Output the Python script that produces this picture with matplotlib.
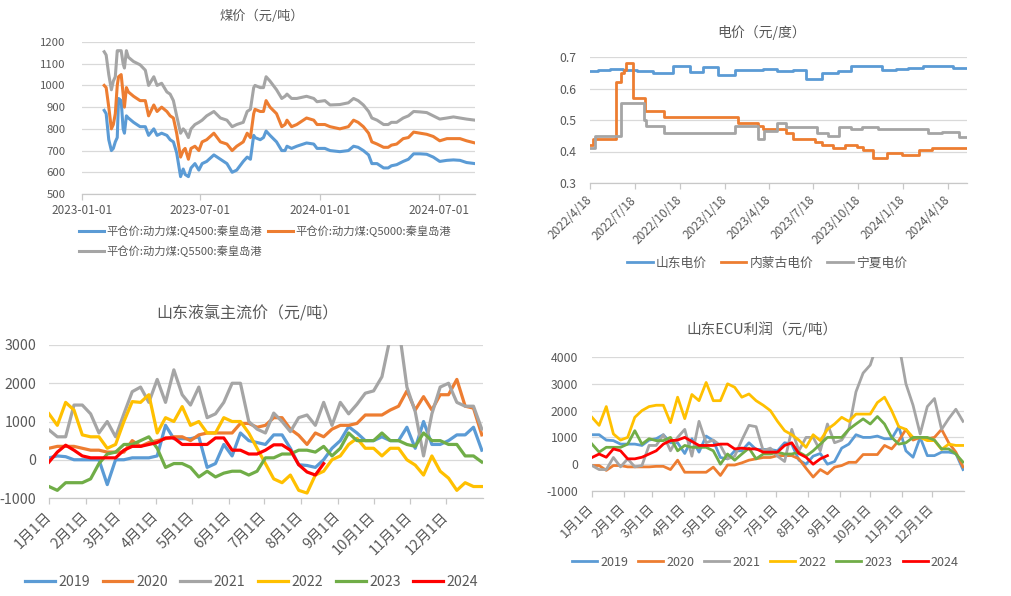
import numpy as np
import matplotlib
matplotlib.use('Agg')
import matplotlib.pyplot as plt

plt.rcParams['font.family'] = ['Noto Sans CJK SC', 'DejaVu Sans']
plt.rcParams['axes.unicode_minus'] = False

# ---------------- data ----------------
# coal: day offsets from 2023-01-01
coal_days = [34, 37, 41, 45, 48, 51, 54, 56, 60, 63, 65, 68, 71, 79, 89, 97, 102, 110, 115, 122,
             130, 135, 140, 145, 151, 155, 158, 163, 167, 173, 179, 184, 191, 202, 212, 222, 230, 237, 247, 253,
             258, 263, 265, 273, 278, 282, 288, 298, 306, 311, 314, 321, 329, 344, 355, 360, 372, 380, 395, 408,
             416, 423, 431, 439, 444, 452, 462, 469, 474, 482, 492, 500, 508, 518, 528, 538, 548, 559, 569, 579,
             589, 602]
q4500 = [885, 870, 750, 700, 710, 740, 760, 940, 930, 800, 780, 860, 850, 830, 810, 810, 770, 800, 770, 780,
         770, 750, 740, 690, 580, 615, 590, 580, 620, 640, 610, 640, 650, 680, 660, 640, 600, 610, 650, 670,
         660, 770, 760, 750, 760, 790, 770, 740, 700, 700, 720, 710, 720, 735, 730, 710, 710, 700, 695, 700,
         720, 715, 700, 680, 640, 640, 620, 620, 630, 635, 650, 660, 685, 685, 683, 670, 650, 655, 657, 655,
         645, 640]
q5000 = [1000, 990, 900, 800, 820, 870, 1000, 1040, 1050, 960, 900, 990, 970, 950, 930, 930, 860, 910, 880, 900,
         880, 860, 850, 780, 670, 700, 710, 660, 710, 720, 700, 740, 750, 780, 740, 730, 700, 720, 740, 780,
         760, 870, 890, 880, 880, 930, 900, 870, 810, 820, 840, 810, 820, 850, 840, 820, 820, 810, 800, 810,
         840, 830, 810, 780, 740, 730, 715, 715, 725, 730, 755, 760, 785, 780, 775, 765, 745, 755, 755, 755,
         745, 735]
q5500 = [1155, 1140, 1050, 980, 1020, 1040, 1160, 1160, 1160, 1100, 1080, 1160, 1130, 1110, 1095, 1070, 1000, 1040, 1000, 1010,
         970, 960, 930, 860, 780, 800, 790, 760, 800, 820, 830, 840, 860, 880, 850, 840, 810, 820, 830, 880,
         890, 990, 1000, 990, 990, 1040, 1020, 980, 940, 950, 960, 940, 940, 950, 940, 925, 930, 910, 912, 920,
         940, 930, 910, 880, 850, 840, 820, 820, 830, 830, 850, 860, 880, 878, 875, 860, 845, 850, 855, 850,
         845, 840]
coal_ticks = ['2023-01-01', '2023-07-01', '2024-01-01', '2024-07-01']

# power price: step change points, day offsets from 2022-04-18
sd_days = [0, 16, 40, 67, 95, 129, 170, 204, 231, 262, 296, 354, 381, 415, 442, 473, 507, 534, 596, 626, 650, 681, 742, 770]
sd_price = [0.655, 0.66, 0.663, 0.66, 0.655, 0.65, 0.67, 0.652, 0.668, 0.643, 0.66, 0.663, 0.655, 0.658, 0.63, 0.648,
            0.657, 0.67, 0.66, 0.663, 0.666, 0.672, 0.665, 0.665]
nm_days = [0, 6, 54, 63, 70, 74, 87, 112, 151, 303, 344, 354, 401, 414, 459, 473, 496, 521, 545, 558, 579, 606, 637, 671, 698, 770]
nm_price = [0.42, 0.44, 0.62, 0.65, 0.66, 0.68, 0.57, 0.53, 0.51, 0.49, 0.48, 0.47, 0.46, 0.44, 0.43, 0.42, 0.41,
            0.42, 0.415, 0.405, 0.38, 0.395, 0.39, 0.405, 0.41, 0.41]
nx_days = [0, 10, 64, 110, 115, 151, 296, 344, 355, 382, 401, 463, 487, 509, 534, 555, 589, 691, 718, 753, 770]
nx_price = [0.41, 0.45, 0.555, 0.50, 0.48, 0.46, 0.48, 0.44, 0.465, 0.49, 0.478, 0.46, 0.45, 0.478, 0.47, 0.478,
            0.47, 0.46, 0.463, 0.445, 0.445]
power_ticks = ['2022-04-18', '2022-07-18', '2022-10-18', '2023-01-18', '2023-04-18',
               '2023-07-18', '2023-10-18', '2024-01-18', '2024-04-18']
power_labels = ['2022/4/18', '2022/7/18', '2022/10/18', '2023/1/18', '2023/4/18',
                '2023/7/18', '2023/10/18', '2024/1/18', '2024/4/18']

# weekly values, week 0 = Jan 1
years = ['2019', '2020', '2021', '2022', '2023', '2024']
chlor = {
    '2019': [50, 100, 80, 0, 0, 0, 0, -650, 0, 0, 50, 50, 50, 100, 900, 550, 550, 550, 600, -200,
             -100, 400, 100, 700, 500, 450, 400, 650, 650, 300, -130, -150, -200, 0, 300, 500, 865, 700, 500, 500,
             600, 500, 500, 850, 300, 1000, 400, 400, 500, 650, 650, 850, 250],
    '2020': [300, 350, 350, 350, 300, 250, 250, 200, 200, 200, 500, 350, 450, 500, 550, 600, 600, 500, 650, 700,
             700, 700, 700, 950, 950, 850, 900, 1100, 1100, 800, 640, 400, 700, 600, 800, 900, 900, 950, 1170, 1170,
             1170, 1300, 1400, 1800, 1300, 1650, 1300, 1700, 1700, 2100, 1400, 1350, 650],
    '2021': [780, 600, 600, 1430, 1430, 1200, 700, 1000, 600, 1200, 1780, 1900, 1500, 2100, 1500, 2350, 1700, 1430, 1900, 1100,
             1200, 1500, 2000, 2000, 1000, 800, 700, 1220, 1000, 735, 1100, 1170, 900, 1500, 900, 1500, 1200, 1450, 1740, 1800,
             2170, 3200, 3500, 1900, 1256, 100, 1200, 1900, 2000, 1500, 1400, 1400, 800],
    '2022': [1200, 900, 1500, 1300, 650, 600, 600, 300, 400, 1000, 1520, 1500, 1700, 700, 1100, 1000, 1390, 900, 1000, 700,
             700, 1100, 1000, 1000, 700, 300, -100, -500, -600, -400, -800, -870, -400, -300, 0, 100, 400, 560, 300, 300,
             100, 300, 300, 0, -140, -400, 100, -300, -480, -800, -600, -700, -700],
    '2023': [-700, -800, -600, -600, -600, -500, -100, 150, 200, 400, 400, 500, 600, 300, -200, -100, -100, -200, -450, -300,
             -450, -350, -300, -300, -400, -300, 50, 50, 150, 150, 250, 250, 200, 350, 100, 300, 700, 500, 500, 500,
             700, 500, 500, 400, 350, 700, 500, 500, 400, 400, 100, 100, -60],
    '2024': [-60, 200, 380, 250, 100, 50, 50, 50, 50, 250, 350, 350, 400, 450, 570, 570, 400, 400, 400, 400,
             570, 570, 250, 250, 150, 150, 250, 390, 390, 250, -130, -320, -400, -100],
}
ecu = {
    '2019': [1100, 1100, 900, 880, 750, 750, 750, 700, 900, 950, 1100, 800, 800, 400, 950, 450, 1050, 880, 250, 200,
             500, 500, 800, 550, 550, 550, 500, 800, 750, 150, 0, 300, 400, 0, 100, 600, 750, 1100, 1000, 1000,
             1050, 950, 950, 1400, 500, 260, 1000, 320, 320, 450, 450, 400, -200],
    '2020': [-50, -50, -230, -50, -50, -100, -100, -100, -100, -80, -80, -200, 150, -300, -300, -300, -300, -110, -420, -30,
             -30, 50, 150, 200, 250, 250, 320, 320, 320, 200, -150, -480, -200, -360, -110, -50, 70, 70, 360, 360,
             360, 700, 570, 880, 1300, 900, 1000, 950, 1000, 1300, 800, 450, -100],
    '2021': [-50, -200, -200, 250, -100, 200, -100, -50, 700, 700, 1100, 500, 1000, 1300, 300, 1600, 800, 900, 700, 200,
             300, 900, 1450, 1400, 500, 600, 300, 100, 1300, 500, 1000, 1000, 500, 1500, 800, 900, 1300, 2700, 3400, 3700,
             4500, 4700, 4700, 4500, 3000, 2200, 1130, 2150, 2450, 1300, 1700, 2050, 1600],
    '2022': [1750, 1450, 2150, 1130, 900, 1000, 1750, 2000, 2150, 2200, 2200, 1550, 2500, 1700, 2600, 2370, 3050, 2370, 2370, 3000,
             2870, 2500, 2620, 2370, 2200, 2000, 1600, 1250, 1100, 900, 630, 1100, 880, 1300, 1500, 1750, 1600, 1870, 1870, 1870,
             2300, 2500, 2000, 1400, 1300, 1000, 1000, 880, 880, 550, 750, 700, 700],
    '2023': [750, 450, 630, 630, 630, 750, 1250, 750, 950, 880, 880, 1000, 500, 700, 630, 630, 630, 500, 0, 380,
             150, 380, 600, 200, 380, 380, 450, 380, 380, 450, 300, 500, 750, 1000, 1000, 1000, 1300, 1500, 1690, 1500,
             1780, 1500, 1000, 750, 800, 1000, 1000, 1000, 900, 570, 570, 380, 80],
    '2024': [250, 380, 260, 570, 500, 200, 200, 260, 380, 500, 750, 880, 900, 1000, 850, 700, 700, 700, 750, 750,
             570, 600, 570, 570, 450, 450, 450, 700, 800, 400, 260, 0, 200, 320],
}
month_days = [0, 31, 59, 90, 120, 151, 181, 212, 243, 273, 304, 334]
month_labels = [f'{m}月1日' for m in range(1, 13)]

# ---------------- style ----------------
W, H = 1011, 596
TXT = '#595959'
GRID = '#d9d9d9'
AXIS = '#c8c8c8'
BLUE, ORANGE, GRAY = '#5b9bd5', '#ed7d31', '#a5a5a5'
YELLOW, GREEN, RED = '#ffc000', '#70ad47', '#ff0000'
year_colors = [BLUE, ORANGE, GRAY, YELLOW, GREEN, RED]

fig = plt.figure(figsize=(W / 100, H / 100), dpi=100)


def add_ax(l, t, r, b):
    return fig.add_axes([l / W, 1 - b / H, (r - l) / W, (b - t) / H])


def base_style(ax, yfs, xfs, ypad=9):
    for s in ('left', 'right', 'top'):
        ax.spines[s].set_visible(False)
    ax.spines['bottom'].set_color(AXIS)
    ax.spines['bottom'].set_linewidth(0.9)
    ax.grid(axis='y', color=GRID, linewidth=0.9)
    ax.set_axisbelow(True)
    ax.tick_params(axis='y', length=0, pad=ypad, labelsize=yfs, labelcolor=TXT)
    ax.tick_params(axis='x', length=4, width=0.9, color=AXIS, pad=3, labelsize=xfs, labelcolor=TXT)


def title(x, y, s, fs):
    fig.text(x / W, 1 - y / H, s, ha='center', va='center', fontsize=fs, color=TXT)


def legend(handles, labels, x, y, fs, ncol, hl, cs, **kw):
    fig.legend(handles, labels, loc='center left', bbox_to_anchor=(x / W, 1 - y / H), ncol=ncol,
               frameon=False, fontsize=fs, handlelength=hl, handletextpad=0.25, columnspacing=cs,
               borderpad=0, borderaxespad=0, labelcolor=TXT, **kw)


# ---------------- panel 1: coal ----------------
ax1 = add_ax(82, 42, 475, 194)
base_style(ax1, 8.2, 8.5, ypad=12)
t0 = np.datetime64('2023-01-01')
cx = t0 + np.array(coal_days)
l1, = ax1.plot(cx, q4500, color=BLUE, lw=2.2)
l2, = ax1.plot(cx, q5000, color=ORANGE, lw=2.2)
l3, = ax1.plot(cx, q5500, color=GRAY, lw=2.2)
ax1.set_ylim(500, 1200)
ax1.set_yticks(range(500, 1201, 100))
ax1.set_xlim(t0, t0 + 602)
ax1.set_xticks(np.array(coal_ticks, dtype='datetime64[D]'), coal_ticks)
title(262, 16, '煤价（元/吨）', 9.5)
legend([l1, l3, l2], ['平仓价:动力煤:Q4500:秦皇岛港', '平仓价:动力煤:Q5500:秦皇岛港', '平仓价:动力煤:Q5000:秦皇岛港'],
       79, 241, 8.1, 2, 2.2, 0.5, labelspacing=0.7)

# ---------------- panel 2: power ----------------
ax2 = add_ax(590, 57, 967, 183)
base_style(ax2, 8.8, 8.6, ypad=10)
t1 = np.datetime64('2022-04-18')
p1, = ax2.step(t1 + np.array(sd_days), sd_price, where='post', color=BLUE, lw=2.0)
p2, = ax2.step(t1 + np.array(nm_days), nm_price, where='post', color=ORANGE, lw=2.0)
p3, = ax2.step(t1 + np.array(nx_days), nx_price, where='post', color=GRAY, lw=2.0)
ax2.set_ylim(0.3, 0.7)
ax2.set_yticks([0.3, 0.4, 0.5, 0.6, 0.7], ['0.3', '0.4', '0.5', '0.6', '0.7'])
ax2.set_xlim(t1, t1 + 770)
ax2.set_xticks(np.array(power_ticks, dtype='datetime64[D]'), power_labels,
               rotation=45, ha='right', va='center', rotation_mode='anchor')
ax2.tick_params(axis='x', pad=7)
title(762, 32, '电价（元/度）', 10)
legend([p1, p2, p3], ['山东电价', '内蒙古电价', '宁夏电价'], 627, 263, 9.2, 3, 2.0, 1.1)

# ---------------- panel 3 & 4: seasonal ----------------
def seasonal(ax, data, lw):
    lines = []
    for yr, c in zip(years, year_colors):
        v = data[yr]
        ln, = ax.plot(np.arange(len(v)) * 7, v, color=c, lw=lw)
        lines.append(ln)
    ax.set_xlim(0, 365)
    ax.set_xticks(month_days, month_labels, rotation=45, ha='right', va='center', rotation_mode='anchor')
    return lines


ax3 = add_ax(49, 345, 483, 498)
base_style(ax3, 10.2, 10.5, ypad=9)
h3 = seasonal(ax3, chlor, 2.3)
ax3.set_ylim(-1000, 3000)
ax3.set_yticks(range(-1000, 3001, 1000))
ax3.tick_params(axis='x', pad=8)
title(247, 314, '山东液氯主流价（元/吨）', 11.5)
legend(h3, years, 25, 582, 10.2, 6, 2.1, 0.9)

ax4 = add_ax(592, 357, 964, 491)
base_style(ax4, 8.8, 9.5, ypad=10)
h4 = seasonal(ax4, ecu, 2.0)
ax4.set_ylim(-1000, 4000)
ax4.set_yticks(range(-1000, 4001, 1000))
ax4.tick_params(axis='x', pad=7)
title(762, 329, '山东ECU利润（元/吨）', 10.5)
legend(h4, years, 572, 562, 9.0, 6, 2.0, 0.8)

fig.savefig('out.png', dpi=100)
